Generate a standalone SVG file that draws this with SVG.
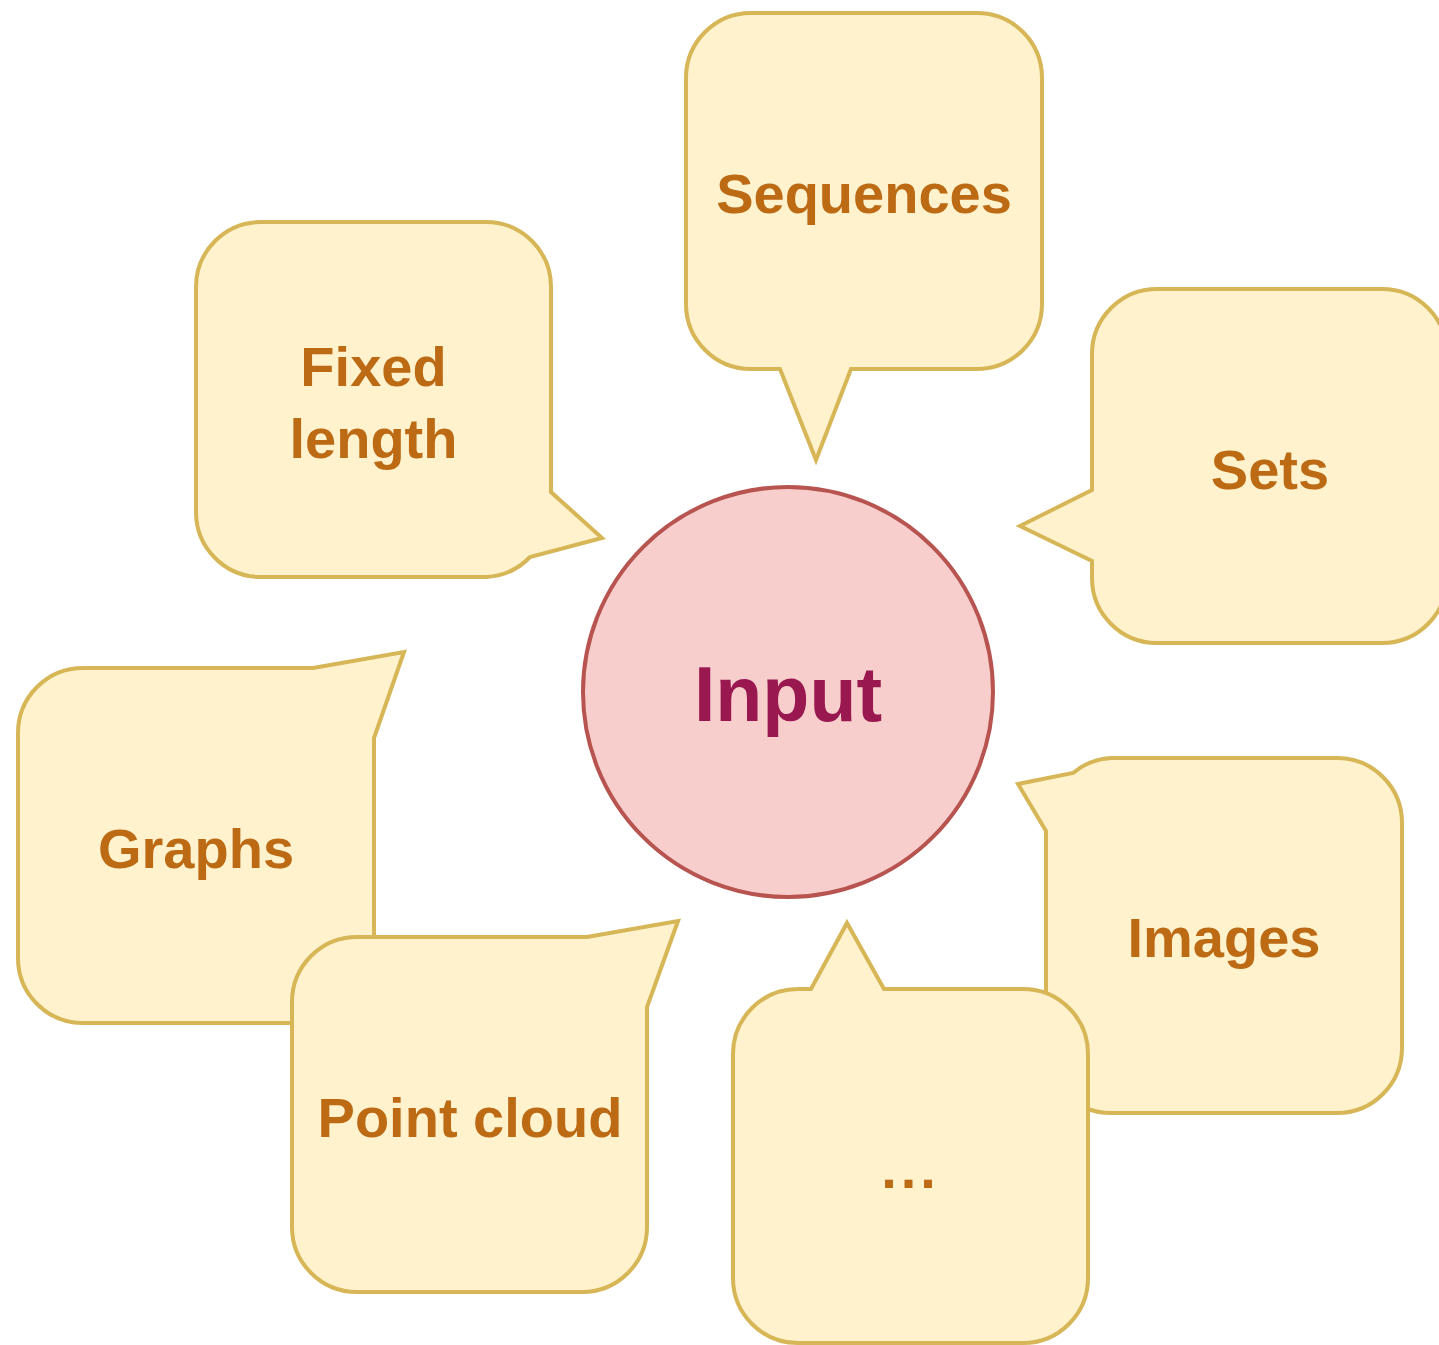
<svg xmlns="http://www.w3.org/2000/svg" width="1439" height="1345" viewBox="0 0 1439 1345">
<style>
.callout{fill:#FFF2CC;stroke:#D6B656;stroke-width:4;stroke-linejoin:miter}
.lbl{font-family:"Liberation Sans",Arial,Helvetica,sans-serif;font-weight:bold;font-size:56px;fill:#BD6A15;text-anchor:middle}
.center{fill:#F8CECC;stroke:#B85450;stroke-width:4}
.clbl{font-family:"Liberation Sans",Arial,Helvetica,sans-serif;font-weight:bold;font-size:77px;fill:#99184F;text-anchor:middle}
</style>
<rect x="0" y="0" width="1439" height="1345" fill="#FFFFFF"/>
<g id="sequences">
<path class="callout" d="M 751,13 H 977 A 65 65 0 0 1 1042,78 V 304 A 65 65 0 0 1 977,369 H 851 L 816,460 L 780,369 H 751 A 65 65 0 0 1 686,304 V 78 A 65 65 0 0 1 751,13 Z"/>
<text class="lbl" x="864" y="213">Sequences</text>
</g>
<g id="fixed-length">
<path class="callout" d="M 261,222 H 486 A 65 65 0 0 1 551,287 V 492 L 602,538 L 530,557 A 65 65 0 0 1 486,577 H 261 A 65 65 0 0 1 196,512 V 287 A 65 65 0 0 1 261,222 Z"/>
<text class="lbl" x="373.5" y="386">Fixed</text>
<text class="lbl" x="373.5" y="458">length</text>
</g>
<g id="sets">
<path class="callout" d="M 1157,289 H 1382 A 65 65 0 0 1 1447,354 V 578 A 65 65 0 0 1 1382,643 H 1157 A 65 65 0 0 1 1092,578 V 561 L 1020,526 L 1092,490 V 354 A 65 65 0 0 1 1157,289 Z"/>
<text class="lbl" x="1270" y="489">Sets</text>
</g>
<g id="input">
<circle class="center" cx="788" cy="692" r="205"/>
<text class="clbl" x="788" y="721">Input</text>
</g>
<g id="graphs">
<path class="callout" d="M 83,668 H 313 L 404,652 L 374,738 V 958 A 65 65 0 0 1 309,1023 H 83 A 65 65 0 0 1 18,958 V 733 A 65 65 0 0 1 83,668 Z"/>
<text class="lbl" x="196" y="868">Graphs</text>
</g>
<g id="point-cloud">
<path class="callout" d="M 357,937 H 587 L 678,921 L 647,1007 V 1227 A 65 65 0 0 1 582,1292 H 357 A 65 65 0 0 1 292,1227 V 1002 A 65 65 0 0 1 357,937 Z"/>
<text class="lbl" x="470" y="1137">Point cloud</text>
</g>
<g id="images">
<path class="callout" d="M 1111,758 H 1337 A 65 65 0 0 1 1402,823 V 1048 A 65 65 0 0 1 1337,1113 H 1111 A 65 65 0 0 1 1046,1048 V 831 L 1018,784 L 1073,773 A 65 65 0 0 1 1111,758 Z"/>
<text class="lbl" x="1224" y="957">Images</text>
</g>
<g id="more">
<path class="callout" d="M 798,989 H 811 L 847,923 L 884,989 H 1023 A 65 65 0 0 1 1088,1054 V 1278 A 65 65 0 0 1 1023,1343 H 798 A 65 65 0 0 1 733,1278 V 1054 A 65 65 0 0 1 798,989 Z"/>
<text class="lbl" x="910.5" y="1188" letter-spacing="4">...</text>
</g>
</svg>
